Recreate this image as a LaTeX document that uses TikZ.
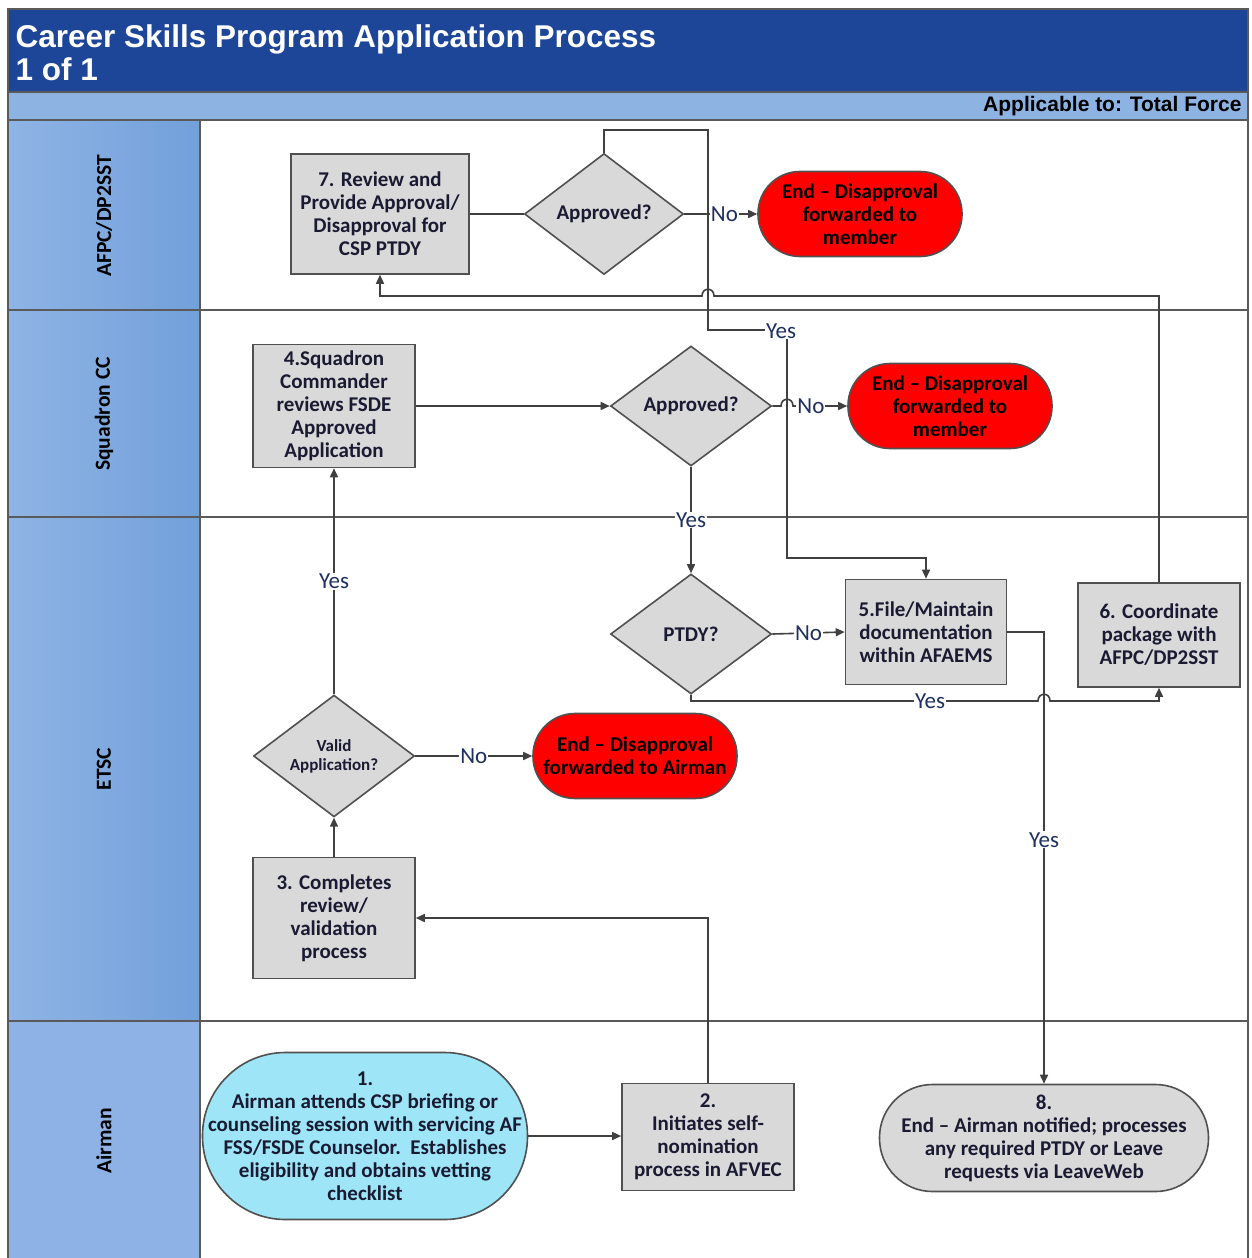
\documentclass[tikz,border=0pt]{standalone}
\usepackage{fontspec}
\setmainfont{Carlito}
\newfontfamily\arialf{Liberation Sans}
\usetikzlibrary{shapes.geometric,arrows.meta}
\definecolor{hdrblue}{RGB}{30,70,152}
\definecolor{bandblue}{RGB}{141,179,226}
\definecolor{laneL}{RGB}{143,180,229}
\definecolor{laneR}{RGB}{114,160,218}
\definecolor{laneA}{RGB}{143,178,230}
\definecolor{boxgray}{RGB}{217,217,217}
\definecolor{endred}{RGB}{255,0,0}
\definecolor{cyanf}{RGB}{158,230,247}
\definecolor{lncol}{RGB}{64,64,64}
\definecolor{shpline}{RGB}{80,80,80}
\definecolor{lanecol}{RGB}{90,90,90}
\definecolor{txtcol}{RGB}{26,26,50}
\definecolor{lblcol}{RGB}{31,47,95}
\begin{document}
\begin{tikzpicture}[x=1pt,y=-1pt,
  conn/.style={draw=lncol, line width=1.6pt},
  arr/.style={conn, -{Triangle[length=9pt,width=8pt]}},
  box/.style={draw=shpline, fill=boxgray, line width=1.6pt, inner sep=0pt, align=center, text=txtcol, font=\bfseries\fontsize{21}{23}\selectfont},
  dia/.style={diamond, draw=shpline, fill=boxgray, line width=1.6pt, inner sep=0pt, align=center, text=txtcol, font=\bfseries\fontsize{21}{23}\selectfont},
  redend/.style={box, fill=endred, text=black, rounded corners=42pt, minimum width=204pt, minimum height=85pt},
  lbl/.style={fill=white, inner sep=1pt, text=lblcol, font=\fontsize{23}{25}\selectfont},
  lanelbl/.style={rotate=90, font=\bfseries\fontsize{21.5}{24}\selectfont, text=black},
  laneline/.style={draw=lanecol, line width=1.5pt}
]
\useasboundingbox (0,0) rectangle (1252,1258);
\fill[white] (0,0) rectangle (1252,1258);
% header
\fill[hdrblue] (8,9) rectangle (1248,92);
\fill[bandblue] (8,92) rectangle (1248,120);
\shade[left color=laneL, right color=laneR] (8,120) rectangle (200,1021);
\fill[laneA] (8,1021) rectangle (200,1258);
\draw[laneline] (8,1262) -- (8,9) -- (1248,9) -- (1248,1262);
\draw[laneline] (8,92) -- (1248,92);
\draw[laneline] (8,120) -- (1248,120);
\draw[laneline] (200,120) -- (200,1262);
\draw[laneline] (8,310) -- (1248,310);
\draw[laneline] (8,517) -- (1248,517);
\draw[laneline] (8,1021) -- (1248,1021);
\node[anchor=west, align=left, text=white, font=\arialf\bfseries\fontsize{31.5}{33}\selectfont] (title) at (12,53) {Career Skills Program Application Process\\1 of 1};
\node[anchor=east, font=\arialf\bfseries\fontsize{21}{23}\selectfont] (appl) at (1245,106) {Applicable to: Total Force};
% lane labels
\node[lanelbl] (l1) at (104,216) {AFPC/DP2SST};
\node[lanelbl] (l2) at (104,414) {Squadron CC};
\node[lanelbl] (l3) at (104,769) {ETSC};
\node[lanelbl] (l4) at (104,1141) {Airman};
% nodes
\node[box, minimum width=178pt, minimum height=120pt] (b7) at (380,214) {7. Review and\\Provide Approval/\\Disapproval for\\CSP PTDY};
\node[dia, minimum width=159pt, minimum height=121pt] (d1) at (604,214) {Approved?};
\node[redend] (r1) at (860,214) {End -- Disapproval\\forwarded to\\member};
\node[box, minimum width=162pt, minimum height=123pt] (b4) at (334,406) {4.Squadron\\Commander\\reviews FSDE\\Approved\\Application};
\node[dia, minimum width=161pt, minimum height=120pt] (d2) at (691,406) {Approved?};
\node[redend] (r2) at (950,406) {End -- Disapproval\\forwarded to\\member};
\node[dia, minimum width=161pt, minimum height=120pt] (dp) at (691,634) {PTDY?};
\node[box, minimum width=161pt, minimum height=105pt] (b5) at (926,632) {5.File/Maintain\\documentation\\within AFAEMS};
\node[box, minimum width=162pt, minimum height=104pt] (b6) at (1159,635) {6. Coordinate\\package with\\AFPC/DP2SST};
\node[dia, minimum width=161pt, minimum height=121pt, font=\bfseries\fontsize{17}{19}\selectfont] (dv) at (334,756) {Valid\\Application?};
\node[redend] (r3) at (635,756) {End -- Disapproval\\forwarded to Airman};
\node[box, minimum width=162pt, minimum height=121pt] (b3) at (334,918) {3. Completes\\review/\\validation\\process};
\node[box, fill=cyanf, rounded corners=83pt, minimum width=325pt, minimum height=167pt] (b1) at (365,1136) {1.\\Airman attends CSP briefing or\\counseling session with servicing AF\\FSS/FSDE Counselor.\ \ Establishes\\eligibility and obtains vetting\\checklist};
\node[box, minimum width=172pt, minimum height=107pt] (b2) at (708,1137) {2.\\Initiates self-\\nomination\\process in AFVEC};
\node[box, rounded corners=53pt, minimum width=329pt, minimum height=107pt] (b8) at (1044,1138) {8.\\End -- Airman notified; processes\\any required PTDY or Leave\\requests via LeaveWeb};
% connectors
\draw[arr] (b1.east) -- (b1.east -| b2.west);
\draw[arr] (b2.north) -- (b2.north |- b3.east) -- (b3.east);
\draw[arr] (b3.north) -- (dv.south);
\draw[arr] (dv.east) -- node[lbl]{No} (r3.west);
\draw[arr] (dv.north) -- node[lbl]{Yes} (b4.south);
\draw[arr] (b4.east) -- (d2.west);
\coordinate (h2a) at (781,406);
\coordinate (h2b) at (793,406);
\draw[arr] (d2.east) -- (h2a) .. controls (781,397) and (793,397) .. (h2b) -- node[lbl, pos=0.33]{No} (r2.west);
\draw[arr] (d2.south) -- node[lbl]{Yes} (dp.north);
\draw[arr] (dp.east) -- node[lbl]{No} (b5.west);
\coordinate (py1) at (691,701);
\coordinate (h3a) at (1038,701);
\coordinate (h3b) at (1050,701);
\coordinate (py2) at (1159,701);
\draw[arr] (dp.south) -- (py1) -- (h3a) .. controls (1038,692) and (1050,692) .. (h3b) -- (py2) -- (b6.south);
\node[lbl] (yes3) at (930,701) {Yes};
\coordinate (c5) at (1044,632);
\draw[arr] (b5.east) -- (c5) -- node[lbl, pos=0.46]{Yes} (b8.north);
\coordinate (t1) at (1159,296);
\coordinate (h1a) at (714,296);
\coordinate (h1b) at (702,296);
\coordinate (t2) at (380,296);
\draw[arr] (b6.north) -- (t1) -- (h1a) .. controls (714,287) and (702,287) .. (h1b) -- (t2) -- (b7.south);
\draw[conn] (b7.east) -- (d1.west);
\draw[arr] (d1.east) -- node[lbl, pos=0.55]{No} (r1.west);
\coordinate (a1) at (604,130);
\coordinate (a2) at (708,130);
\coordinate (a3) at (708,330);
\coordinate (a4) at (787,330);
\coordinate (a5) at (787,558);
\coordinate (a6) at (926,558);
\draw[arr] (d1.north) -- (a1) -- (a2) -- (a3) -- (a4) -- (a5) -- (a6) -- (b5.north);
\node[lbl] (yes1) at (781,331) {Yes};
\end{tikzpicture}
\end{document}
